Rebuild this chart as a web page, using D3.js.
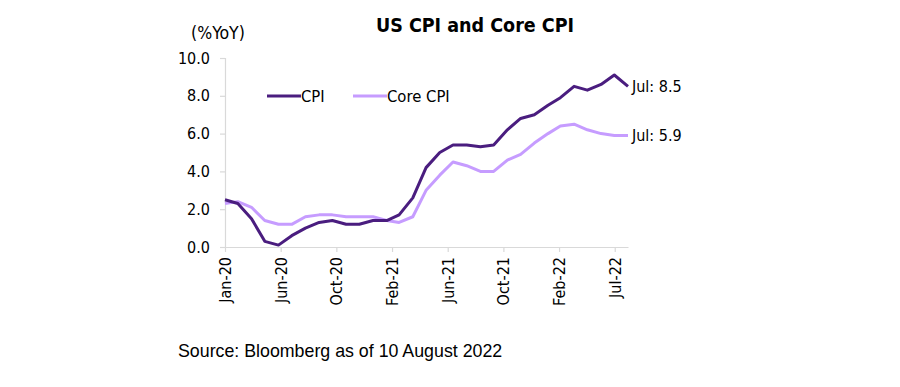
<!DOCTYPE html>
<html>
<head>
<script src="https://d3js.org/d3.v7.min.js" charset="utf-8"></script>
<style>
    body { margin: 0; background: #fff; }
    text { font-family: "DejaVu Sans Condensed", "DejaVu Sans", sans-serif; fill: #000; }
</style>
</head>
<body>
<script>
    // monthly YoY %, Jan-20 .. Jul-22
    var months = ["2020-01","2020-02","2020-03","2020-04","2020-05","2020-06","2020-07","2020-08","2020-09","2020-10","2020-11","2020-12",
                  "2021-01","2021-02","2021-03","2021-04","2021-05","2021-06","2021-07","2021-08","2021-09","2021-10","2021-11","2021-12",
                  "2022-01","2022-02","2022-03","2022-04","2022-05","2022-06","2022-07"];
    var cpi  = [2.5,2.3,1.5,0.3,0.1,0.6,1.0,1.3,1.4,1.2,1.2,1.4,
                1.4,1.7,2.6,4.2,5.0,5.4,5.4,5.3,5.4,6.2,6.8,7.0,
                7.5,7.9,8.5,8.3,8.6,9.1,8.5];
    var core = [2.3,2.4,2.1,1.4,1.2,1.2,1.6,1.7,1.7,1.6,1.6,1.6,
                1.4,1.3,1.6,3.0,3.8,4.5,4.3,4.0,4.0,4.6,4.9,5.5,
                6.0,6.4,6.5,6.2,6.0,5.9,5.9];
    // excel date axis ticks (every 126 days)
    var tickDates = ["2020-01-31","2020-06-05","2020-10-09","2021-02-12","2021-06-18","2021-10-22","2022-02-25","2022-07-01"];
    var yTicks = [0, 2, 4, 6, 8, 10];

    var W = 900, H = 387;
    var x0 = 225, x1 = 628, yTop = 58, yBot = 247;
    var fs = "16px";

    var parseM = d3.timeParse("%Y-%m");
    var parseD = d3.timeParse("%Y-%m-%d");
    // month-end dates
    var dates = months.map(function(m) { return d3.timeDay.offset(d3.timeMonth.offset(parseM(m), 1), -1); });

    var x = d3.scaleTime().domain([dates[0], dates[dates.length - 1]]).range([x0, x1]);
    var y = d3.scaleLinear().domain([0, 10]).range([yBot, yTop]);

    var svg = d3.select("body").append("svg").attr("width", W).attr("height", H);

    svg.append("text").attr("x", 475).attr("y", 32).attr("text-anchor", "middle")
        .style("font-size", "19.5px").style("font-weight", "bold").text("US CPI and Core CPI");

    svg.append("text").attr("x", 218).attr("y", 39).attr("text-anchor", "middle")
        .style("font-size", "17.5px").text("(%YoY)");

    // y axis
    var yAxis = svg.append("g").attr("transform", "translate(" + x0 + ",0)")
        .call(d3.axisLeft(y).tickValues(yTicks).tickFormat(d3.format(".1f")).tickSize(5).tickPadding(10));
    yAxis.selectAll("text").style("font-size", fs);

    // x axis
    var xAxis = svg.append("g").attr("transform", "translate(0," + yBot + ")")
        .call(d3.axisBottom(x).tickValues(tickDates.map(parseD)).tickFormat(d3.timeFormat("%b-%y")).tickSize(5).tickSizeOuter(0));
    xAxis.selectAll("text")
        .style("font-size", fs)
        .attr("transform", "rotate(-90)")
        .attr("text-anchor", "end")
        .attr("x", -10).attr("y", 0).attr("dy", "0.35em");

    svg.selectAll(".domain, .tick line").attr("stroke", "#d9d9d9").attr("stroke-width", 1.2);

    var line = d3.line().x(function(d, i) { return x(dates[i]); }).y(function(d) { return y(d); });

    svg.append("path").datum(core).attr("d", line)
        .attr("fill", "none").attr("stroke", "#c69cff").attr("stroke-width", 3).attr("stroke-linejoin", "round");
    svg.append("path").datum(cpi).attr("d", line)
        .attr("fill", "none").attr("stroke", "#4a1d7f").attr("stroke-width", 3).attr("stroke-linejoin", "round");

    // legend
    var legend = [{name: "CPI", color: "#4a1d7f", lx: 267}, {name: "Core CPI", color: "#c69cff", lx: 353}];
    legend.forEach(function(l) {
        svg.append("line").attr("x1", l.lx).attr("x2", l.lx + 34).attr("y1", 96).attr("y2", 96)
            .attr("stroke", l.color).attr("stroke-width", 3);
        svg.append("text").attr("x", l.lx + 34).attr("y", 102).style("font-size", "16.5px").text(l.name);
    });

    // end labels
    var last = dates.length - 1;
    svg.append("text").attr("x", x(dates[last]) + 4).attr("y", y(cpi[last]) + 6)
        .style("font-size", fs).text("Jul: " + cpi[last]);
    svg.append("text").attr("x", x(dates[last]) + 4).attr("y", y(core[last]) + 6)
        .style("font-size", fs).text("Jul: " + core[last]);

    svg.append("text").attr("x", 178).attr("y", 357)
        .style("font-family", "'Liberation Sans', Arial, sans-serif").style("font-size", "17.8px")
        .text("Source: Bloomberg as of 10 August 2022");
</script>
</body>
</html>
